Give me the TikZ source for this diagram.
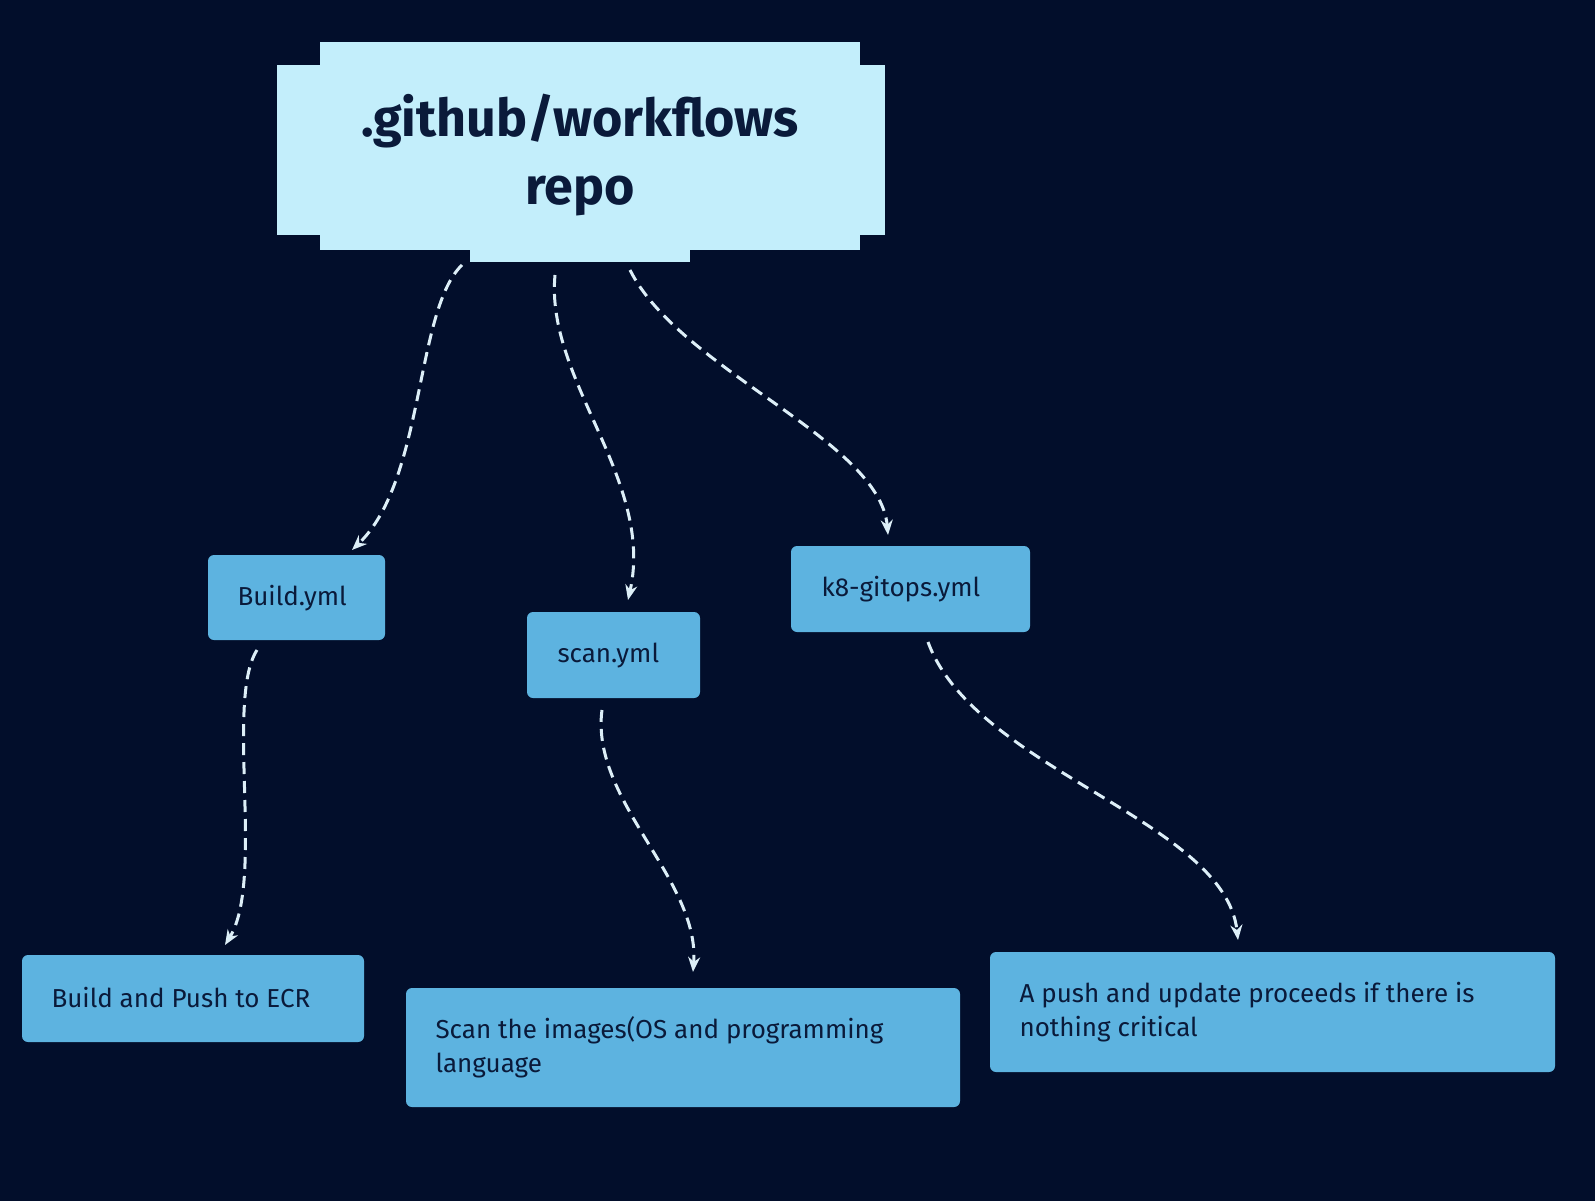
\documentclass[tikz,border=0pt]{standalone}
\usepackage{fontspec}
\setmainfont{Fira Sans}
\usetikzlibrary{arrows.meta}
\definecolor{bg}{HTML}{020E2B}
\definecolor{topc}{HTML}{C3EEFB}
\definecolor{boxc}{HTML}{5DB3E0}
\definecolor{txt}{HTML}{0A1A3A}
\definecolor{arr}{HTML}{DDEFF8}
\begin{document}
\begin{tikzpicture}[x=1pt,y=-1pt,
  box/.style={fill=boxc,rounded corners=6pt},
  lbl/.style={text=txt,font=\fontsize{26}{34}\selectfont,align=left,anchor=west},
  con/.style={draw=arr,line width=3pt,dash pattern=on 12pt off 7pt,-{Stealth[length=15pt,width=12pt]}}]
\fill[bg] (0,0) rectangle (1595,1201);
\useasboundingbox (0,0) rectangle (1595,1201);
% top
\fill[topc] (277,65) rectangle (885,235);
\fill[topc] (320,42) rectangle (860,250);
\fill[topc] (470,250) rectangle (690,262);
\node[text=txt,font=\bfseries\fontsize{52}{68}\selectfont,align=center] (top) at (580,155) {.github/workflows\\repo};
% boxes
\fill[box] (208,555) rectangle (385,640); \node[lbl] (b1) at (234,598) {Build.yml};
\fill[box] (527,612) rectangle (700,698); \node[lbl] (b2) at (554,656) {scan.yml};
\fill[box] (791,546) rectangle (1030,632); \node[lbl] (b3) at (818,589) {k8-gitops.yml};
\fill[box] (22,955) rectangle (364,1042); \node[lbl] (c1) at (48,998) {Build and Push to ECR};
\fill[box] (406,988) rectangle (960,1107); \node[lbl] (c2) at (432,1047) {Scan the images(OS and programming\\language};
\fill[box] (990,952) rectangle (1555,1072); \node[lbl] (c3) at (1016,1012) {A push and update proceeds if there is\\nothing critical};
\coordinate (a1s) at (462,265); \coordinate (a1e) at (352,550);
\coordinate (a2s) at (555,275); \coordinate (a2e) at (628,600);
\coordinate (a3s) at (630,270); \coordinate (a3e) at (888,535);
\coordinate (a4s) at (257,650); \coordinate (a4e) at (225,945);
\coordinate (a5s) at (602,710); \coordinate (a5e) at (693,972);
\coordinate (a6s) at (928,642); \coordinate (a6e) at (1238,940);
\draw[con] (a1s) .. controls (415,310) and (425,480) .. (a1e);
\draw[con] (a2s) .. controls (545,380) and (655,480) .. (a2e);
\draw[con] (a3s) .. controls (680,370) and (880,440) .. (a3e);
\draw[con] (a4s) .. controls (225,700) and (265,880) .. (a4e);
\draw[con] (a5s) .. controls (590,800) and (700,880) .. (a5e);
\draw[con] (a6s) .. controls (975,770) and (1225,820) .. (a6e);
\end{tikzpicture}
\end{document}
